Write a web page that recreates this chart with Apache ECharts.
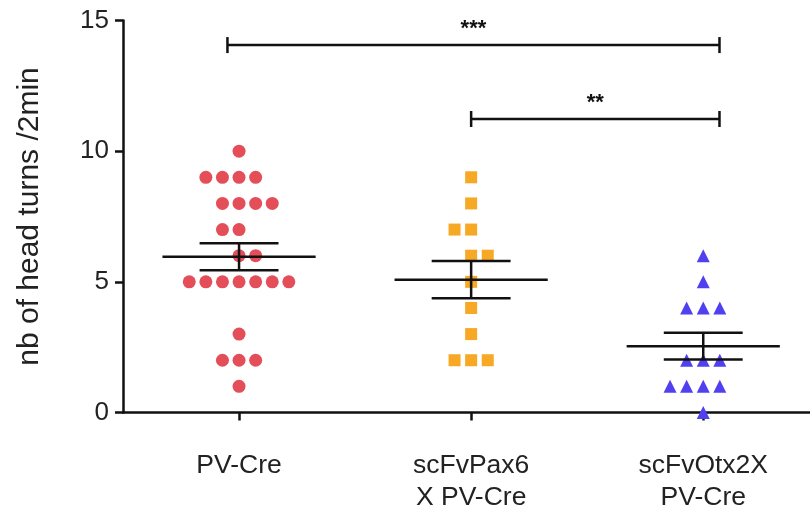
<!DOCTYPE html>
<html>
<head>
<meta charset="utf-8">
<script src="https://cdn.jsdelivr.net/npm/echarts@6/dist/echarts.min.js"></script>
<style>html,body{margin:0;padding:0;background:#fff}#c{width:810px;height:511px}</style>
</head>
<body>
<div id="c"></div>
<script>
// ---- data ----
const categories = ['PV-Cre', 'scFvPax6\nX PV-Cre', 'scFvOtx2X\nPV-Cre'];
const pvCre = [10, 9, 9, 9, 9, 8, 8, 8, 8, 7, 7, 6, 6, 5, 5, 5, 5, 5, 5, 5, 3, 2, 2, 2, 1];
const pax6 = [9, 8, 7, 7, 6, 6, 5, 4, 3, 2, 2, 2];
const otx2 = [6, 5, 4, 4, 4, 2, 2, 2, 1, 1, 1, 1, 0];
const yTicks = [0, 5, 10, 15];
const sigBrackets = [
  { from: 0.95, to: 3.07, y: 14.06, text: '***' },
  { from: 2.0, to: 3.07, y: 11.23, text: '**' }
];
// ---- layout (horizontal slot per point, in dot widths) ----
const pvSlots = [0, -2, -1, 0, 1, -1, 0, 1, 2, -1, 0, 0, 1, -3, -2, -1, 0, 1, 2, 3, 0, -1, 0, 1, 0];
const paxSlots = [0, 0, -1, 0, 0, 1, 0, 0, 0, -1, 0, 1];
const otxSlots = [0, 0, -1, 0, 1, -1, 0, 1, -2, -1, 0, 1, 0];
const slotW = 0.0715;

function pts(vals, slots, xc) {
  return vals.map((v, i) => [xc + slots[i] * slotW, v]);
}
function stats(vals) {
  const n = vals.length;
  const m = vals.reduce((a, b) => a + b, 0) / n;
  const sd = Math.sqrt(vals.reduce((a, b) => a + (b - m) * (b - m), 0) / (n - 1));
  return [m, sd / Math.sqrt(n)];
}
const groups = [pvCre, pax6, otx2];
const summary = groups.map((g, i) => { const s = stats(g); return [i + 1, s[0], s[1]]; });

const chart = echarts.init(document.getElementById('c'));
const font = 'Liberation Sans, Arial, Helvetica, sans-serif';
const ink = '#111';

chart.setOption({
  animation: false,
  grid: { left: 123, right: 0, top: 20.5, bottom: 98.5, containLabel: false, outerBoundsMode: 'none' },
  xAxis: {
    type: 'value', min: 0.5, max: 3.46,
    axisLine: { show: true, onZero: false, lineStyle: { color: ink, width: 2.5 } },
    axisTick: { show: true, customValues: [1, 2, 3], length: 8, lineStyle: { color: ink, width: 2.5 } },
    axisLabel: {
      customValues: [1, 2, 3], margin: 37, fontFamily: font, fontSize: 26.5, color: '#222', lineHeight: 32,
      formatter: v => categories[Math.round(v) - 1] || ''
    },
    splitLine: { show: false }
  },
  yAxis: {
    type: 'value', min: 0, max: 15, interval: 5,
    name: 'nb of head turns /2min', nameLocation: 'middle', nameGap: 78,
    nameTextStyle: { fontFamily: font, fontSize: 30, color: '#222' },
    axisLine: { show: true, lineStyle: { color: ink, width: 2.5 } },
    axisTick: { show: true, length: 8, lineStyle: { color: ink, width: 2.5 } },
    axisLabel: { margin: 14, fontFamily: font, fontSize: 26, color: '#222',
      formatter: v => yTicks.includes(v) ? String(v) : '' },
    splitLine: { show: false }
  },
  series: [
    { type: 'scatter', data: pts(pvCre, pvSlots, 1), symbol: 'circle', symbolSize: 13,
      itemStyle: { color: '#e44e59', opacity: 1 }, z: 2 },
    { type: 'scatter', data: pts(pax6, paxSlots, 2), symbol: 'rect', symbolSize: 12,
      itemStyle: { color: '#f7a825', opacity: 1 }, z: 2 },
    { type: 'scatter', data: pts(otx2, otxSlots, 3), symbol: 'triangle', symbolSize: 13,
      itemStyle: { color: '#5140f0', opacity: 1 }, z: 2 },
    {
      type: 'custom', data: summary, z: 5, clip: false,
      renderItem: (params, api) => {
        const x = api.value(0), m = api.value(1), s = api.value(2);
        const c = (a, b) => api.coord([a, b]);
        const st = { stroke: ink, lineWidth: 2.5 };
        const line = (p, q) => ({ type: 'line', shape: { x1: p[0], y1: p[1], x2: q[0], y2: q[1] }, style: st });
        return { type: 'group', children: [
          line(c(x - 0.33, m), c(x + 0.33, m)),
          line(c(x, m - s), c(x, m + s)),
          line(c(x - 0.17, m + s), c(x + 0.17, m + s)),
          line(c(x - 0.17, m - s), c(x + 0.17, m - s))
        ] };
      }
    },
    {
      type: 'custom', data: sigBrackets.map(b => [b.from, b.to, b.y]), z: 5, clip: false,
      renderItem: (params, api) => {
        const b = sigBrackets[params.dataIndex];
        const p = api.coord([api.value(0), api.value(2)]);
        const q = api.coord([api.value(1), api.value(2)]);
        const st = { stroke: ink, lineWidth: 2.5 };
        return { type: 'group', children: [
          { type: 'line', shape: { x1: p[0], y1: p[1], x2: q[0], y2: q[1] }, style: st },
          { type: 'line', shape: { x1: p[0], y1: p[1] - 8, x2: p[0], y2: p[1] + 8 }, style: st },
          { type: 'line', shape: { x1: q[0], y1: q[1] - 8, x2: q[0], y2: q[1] + 8 }, style: st },
          { type: 'text', style: { text: b.text, x: (p[0] + q[0]) / 2, y: p[1] - 16,
            align: 'center', verticalAlign: 'middle', fontFamily: font, fontWeight: 'bold', fontSize: 22, fill: ink } }
        ] };
      }
    }
  ]
});
</script>
</body>
</html>
